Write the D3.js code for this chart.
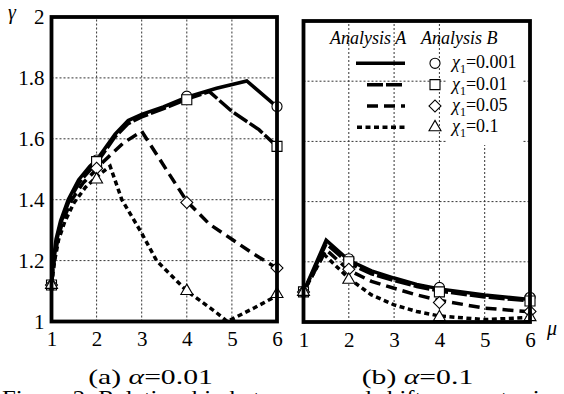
<!DOCTYPE html>
<html>
<head>
<meta charset="utf-8">
<script src="https://cdn.jsdelivr.net/npm/d3@7"></script>
<style>
  body { margin: 0; background: #fff; }
  svg { display: block; }
</style>
</head>
<body>
<svg id="chart" width="564" height="394"></svg>
<script>
// series keys (chi_1 values) and tick labels
var chiLabels = ["0.001", "0.01", "0.05", "0.1"];
var xTicks = [1, 2, 3, 4, 5, 6];
var yTicks = [1, 1.2, 1.4, 1.6, 1.8, 2];
var markerMu = [1, 2, 4, 6];

// (a) alpha = 0.01, Analysis A lines: [mu, gamma]
var a001 = [[1,1.12],[1.04,1.2],[1.1,1.27],[1.2,1.33],[1.37,1.4],[1.6,1.465],[1.85,1.51],[2,1.53],[2.41,1.615],[2.7,1.66],[3,1.68],[3.48,1.705],[4,1.737],[4.66,1.766],[5.33,1.79],[6,1.705]];
var a01 = [[1,1.12],[1.05,1.2],[1.12,1.27],[1.22,1.33],[1.4,1.4],[1.63,1.46],[1.9,1.505],[2,1.52],[2.4,1.605],[2.7,1.65],[3,1.672],[3.5,1.70],[4,1.73],[4.5,1.755],[5,1.69],[5.3,1.66],[5.6,1.63],[6,1.575]];
var a05 = [[1,1.12],[1.06,1.2],[1.14,1.27],[1.25,1.33],[1.45,1.4],[1.7,1.455],[2,1.5],[2.15,1.525],[2.6,1.587],[3,1.625],[3.55,1.498],[4,1.395],[4.5,1.32],[5,1.27],[5.5,1.22],[6,1.175]];
var a1 = [[1,1.12],[1.07,1.2],[1.16,1.27],[1.3,1.33],[1.5,1.39],[1.75,1.44],[2,1.475],[2.3,1.51],[2.56,1.40],[3,1.29],[3.33,1.2],[4,1.10],[4.28,1.07],[4.65,1.03],[4.9,1.0],[5.5,1.045],[6,1.085]];
// (a) Analysis B markers at mu = 1, 2, 4, 6
var aB001 = [1.12, 1.53, 1.74, 1.706];
var aB01 = [1.12, 1.525, 1.728, 1.575];
var aB05 = [1.12, 1.503, 1.391, 1.176];
var aB1 = [1.12, 1.466, 1.10, 1.09];

// (b) alpha = 0.1
var b001 = [[1,1.1],[1.5,1.272],[2,1.205],[2.5,1.17],[3,1.146],[3.5,1.125],[4,1.11],[5,1.09],[6,1.075]];
var b01 = [[1,1.1],[1.5,1.26],[2,1.195],[2.5,1.16],[3,1.138],[3.5,1.118],[4,1.103],[5,1.083],[6,1.07]];
var b05 = [[1,1.1],[1.5,1.24],[2,1.172],[2.5,1.135],[3,1.112],[3.5,1.09],[4,1.072],[5,1.046],[6,1.034]];
var b1 = [[1,1.1],[1.45,1.225],[2,1.145],[2.5,1.09],[3,1.057],[3.5,1.035],[4,1.02],[5,1.008],[6,1.015]];
var bB001 = [1.1, 1.21, 1.115, 1.082];
var bB01 = [1.1, 1.2, 1.10, 1.07];
var bB05 = [1.1, 1.175, 1.065, 1.035];
var bB1 = [1.1, 1.14, 1.016, 1.016];

var dashes = [null, "16,3", "11,6", "5,3.5"];
var symbols = [d3.symbolCircle, d3.symbolSquare, "diamond", d3.symbolTriangle];
var symSizes = [80, 100, 72, 62];
var FONT = "Liberation Serif";

var svg = d3.select("#chart");

function txt(sel, size, italic) {
  return sel.style("font-family", FONT).style("font-size", size + "px")
    .style("font-style", italic ? "italic" : "normal").style("fill", "#000");
}

function markerPath(i) {
  if (symbols[i] === "diamond") return d3.symbol(d3.symbolSquare, symSizes[i])();
  return d3.symbol(symbols[i], symSizes[i])();
}

function drawPanel(xr, yr, lines, marks, yLabels) {
  var x = d3.scaleLinear().domain([1, 6]).range(xr);
  var y = d3.scaleLinear().domain([1, 2]).range(yr);
  var g = svg.append("g");

  // grid
  g.selectAll(".vg").data(xTicks.slice(1, -1)).enter().append("line")
    .attr("x1", d => x(d)).attr("x2", d => x(d))
    .attr("y1", y(1)).attr("y2", y(2))
    .attr("stroke", "#333").attr("stroke-width", 1).attr("stroke-dasharray", "2,2");
  g.selectAll(".hg").data(yTicks.slice(1, -1)).enter().append("line")
    .attr("y1", d => y(d)).attr("y2", d => y(d))
    .attr("x1", x(1)).attr("x2", x(6))
    .attr("stroke", "#333").attr("stroke-width", 1).attr("stroke-dasharray", "2,2");

  // axes (labels only, frame drawn separately)
  var xa = g.append("g").attr("transform", "translate(0," + y(1) + ")")
    .call(d3.axisBottom(x).tickValues(xTicks).tickSize(0).tickPadding(10).tickFormat(d3.format("d")));
  xa.select(".domain").remove();
  txt(xa.selectAll("text"), 21, false);

  if (yLabels) {
    var ya = g.append("g").attr("transform", "translate(" + x(1) + ",0)")
      .call(d3.axisLeft(y).tickValues(yTicks).tickSize(0).tickPadding(7).tickFormat(d => d3.format("~g")(d)));
    ya.select(".domain").remove();
    txt(ya.selectAll("text"), 21, false);
  }

  var line = d3.line().x(d => x(d[0])).y(d => y(d[1]));
  lines.forEach(function (ln, i) {
    g.append("path").datum(ln).attr("d", line)
      .attr("fill", "none").attr("stroke", "#000").attr("stroke-width", 3.5)
      .attr("stroke-dasharray", dashes[i]);
  });

  marks.forEach(function (mk, i) {
    g.selectAll(".m" + i).data(mk).enter().append("path")
      .attr("d", markerPath(i))
      .attr("transform", (d, j) => "translate(" + x(markerMu[j]) + "," + y(d) + ")" + (symbols[i] === "diamond" ? " rotate(45)" : ""))
      .attr("fill", "#fff").attr("stroke", "#000").attr("stroke-width", 1.1);
  });

  g.append("rect")
    .attr("x", x(1)).attr("y", y(2))
    .attr("width", x(6) - x(1)).attr("height", y(1) - y(2))
    .attr("fill", "none").attr("stroke", "#000").attr("stroke-width", 3.8);
  return g;
}

drawPanel([51.5, 277], [321.5, 17], [a001, a01, a05, a1], [aB001, aB01, aB05, aB1], true);
drawPanel([303.5, 530], [322, 21], [b001, b01, b05, b1], [bB001, bB01, bB05, bB1], false);

// legend in panel (b)
var leg = svg.append("g");
leg.append("rect").attr("x", 447).attr("y", 24).attr("width", 76).attr("height", 121).attr("fill", "#fff");
txt(leg.append("text").attr("x", 330).attr("y", 44), 18, true).text("Analysis A");
txt(leg.append("text").attr("x", 421).attr("y", 44), 18, true).text("Analysis B");

var legY = d3.scaleLinear().domain([0, 3]).range([63.3, 127.3]);
var legX0 = [356, 367, 367, 357];
chiLabels.forEach(function (lab, i) {
  var yy = legY(i);
  leg.append("line").attr("x1", legX0[i]).attr("x2", 405).attr("y1", yy).attr("y2", yy)
    .attr("stroke", "#000").attr("stroke-width", 3.5).attr("stroke-dasharray", dashes[i]);
  leg.append("path").attr("d", markerPath(i))
    .attr("transform", "translate(435," + yy + ")" + (symbols[i] === "diamond" ? " rotate(45)" : ""))
    .attr("fill", "#fff").attr("stroke", "#000").attr("stroke-width", 1.1);
  var t = txt(leg.append("text").attr("x", 452).attr("y", yy + 5), 18, false);
  t.append("tspan").style("font-style", "italic").text("χ");
  t.append("tspan").style("font-size", "12px").attr("dy", 5).text("1");
  t.append("tspan").attr("dy", -5).text("=" + lab);
});

// axis titles
txt(svg.append("text").attr("x", 8).attr("y", 19), 20, true).text("γ");
txt(svg.append("text").attr("x", 547).attr("y", 335), 20, true).text("μ");

// captions: pieces laid side by side, stretched horizontally like the source
function caption(cx, parts) {
  var g = svg.append("g");
  var pos = 0;
  parts.forEach(function (p) {
    var t = txt(g.append("text").attr("x", pos).attr("y", 0), 22, p[1]).text(p[0]);
    pos += t.node().getComputedTextLength();
  });
  var sx = 1.35;
  g.attr("transform", "translate(" + (cx - pos * sx / 2) + ",384) scale(" + sx + ",1)");
}
caption(150.5, [["(a)\u00a0", false], ["α", true], ["=0.01", false]]);
caption(417.5, [["(b)\u00a0", false], ["α", true], ["=0.1", false]]);

txt(svg.append("text").attr("transform", "translate(2,405) scale(1.18,1)"), 21, false)
  .text("Figure 2: Relationship between γ and shift parameter in");
</script>
</body>
</html>
